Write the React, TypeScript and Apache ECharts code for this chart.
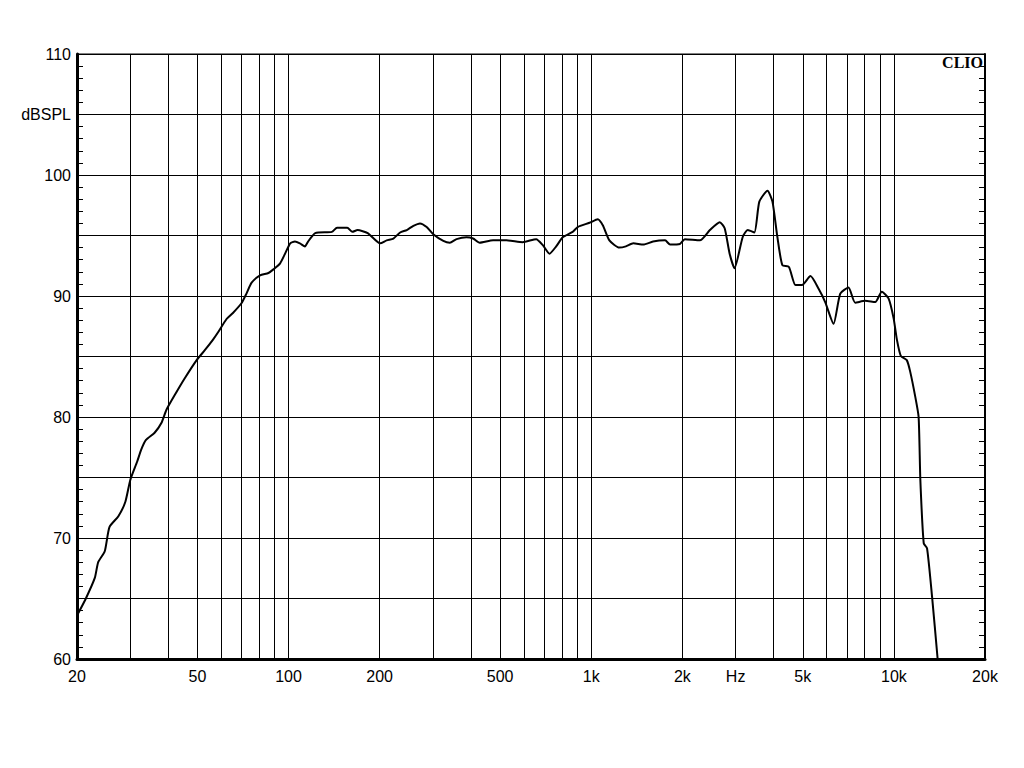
import React, { useEffect, useRef } from "react";
import * as echarts from "echarts";

const freqs = [
  20, 21.3, 22.9, 23.5, 24.7, 25.6, 27.4, 28.9, 30, 31.6, 32.6, 33.8, 36.1, 38, 39.5, 42.5, 45.4, 49.7,
  52.8, 56.3, 58.5, 62.4, 65.5, 69.9, 72.6, 75.5, 80.5, 85.8, 89.1, 93.8, 97.4, 101.3, 105, 109, 113.3,
  116, 122.5, 139, 144.6, 156.3, 162.5, 169, 182.6, 200.7, 211, 222, 233.7, 245.8, 258.5, 271.8, 286,
  300.7, 324.6, 341, 359, 387, 407, 428, 474, 525, 594, 658, 692, 728, 766, 805, 868, 902, 987, 1051,
  1092, 1148, 1238, 1302, 1378, 1486, 1600, 1754, 1822, 1963, 2039, 2286, 2466, 2658, 2760, 2866, 2974,
  3168, 3290, 3459, 3593, 3823, 3970, 4120, 4280, 4500, 4730, 4970, 5300, 5640, 5930, 6320, 6650, 7080,
  7450, 8040, 8680, 9120, 9600, 9980, 10230, 10540, 11030, 11320, 11760, 12070, 12230, 12550, 12870,
  13370, 13950,
];

const splValues = [
  63.6, 64.9, 66.7, 68.0, 68.9, 70.9, 71.8, 73.0, 74.8, 76.3, 77.3, 78.1, 78.7, 79.5, 80.6, 82.0, 83.2, 84.7,
  85.5, 86.4, 87.0, 88.1, 88.6, 89.4, 90.2, 91.1, 91.7, 91.9, 92.2, 92.7, 93.5, 94.35, 94.5, 94.35, 94.1,
  94.5, 95.2, 95.3, 95.65, 95.65, 95.3, 95.45, 95.2, 94.35, 94.6, 94.75, 95.25, 95.45, 95.8, 96.0, 95.7,
  95.1, 94.55, 94.4, 94.7, 94.85, 94.75, 94.4, 94.6, 94.6, 94.45, 94.7, 94.2, 93.5, 94.1, 94.85, 95.3, 95.7, 96.05, 96.35,
  95.85, 94.6, 94.0, 94.1, 94.35, 94.25, 94.5, 94.6, 94.25, 94.3, 94.7, 94.6, 95.45, 96.1, 95.6, 93.5, 92.3,
  94.9, 95.45, 95.25, 97.8, 98.7, 97.8, 94.9, 92.55, 92.4, 90.9, 90.9, 91.65, 90.6, 89.5, 87.7, 90.2, 90.7,
  89.45, 89.6, 89.5, 90.35, 89.8, 88.15, 86.4, 85.05, 84.7, 83.75, 81.7, 80.0, 74.8, 69.55, 69.15,
  65.15, 60.0,
];

const gridFreqs = [
  20, 30, 40, 50, 60, 70, 80, 90, 100, 200, 300, 400, 500, 600, 700, 800, 900, 1000, 2000, 3000, 4000, 5000,
  6000, 7000, 8000, 9000, 10000, 20000,
];
const xLabelFreqs = [20, 50, 100, 200, 500, 1000, 2000, 3000, 5000, 10000, 20000];
const xLabelTexts = ["20", "50", "100", "200", "500", "1k", "2k", "Hz", "5k", "10k", "20k"];

const yMin = 60;
const yMax = 110;
const yStep = 5;
const yUnitValue = 105;
const yUnitText = "dBSPL";

export default function App() {
  const ref = useRef<HTMLDivElement>(null);

  useEffect(() => {
    if (!ref.current) return;
    const chart = echarts.init(ref.current, undefined, { renderer: "svg" });
    const lg = (f: number) => Math.log10(f);
    const labelFont = { fontFamily: "Liberation Sans", fontSize: 16, color: "#000" };

    chart.setOption({
      animation: false,
      backgroundColor: "#fff",
      grid: {
        left: 77,
        top: 54,
        right: 39,
        bottom: 109,
        show: true,
        borderColor: "#000",
        borderWidth: 1,
      },
      graphic: [
        {
          type: "text",
          right: 41,
          top: 54,
          style: {
            text: "CLIO",
            fontFamily: "Liberation Serif",
            fontWeight: "bold",
            fontSize: 16,
            fill: "#000",
          },
        },
      ],
      xAxis: {
        type: "value",
        min: lg(20),
        max: lg(20000),
        axisLine: { show: true, lineStyle: { color: "#000", width: 3 } },
        axisTick: {
          show: true,
          length: 0,
          customValues: gridFreqs.map(lg),
        },
        splitLine: { show: true, lineStyle: { color: "#000", width: 1 } },
        axisLabel: {
          ...labelFont,
          margin: 9,
          customValues: xLabelFreqs.map(lg),
          formatter: (v: number) => {
            const i = xLabelFreqs.findIndex((f) => Math.abs(lg(f) - v) < 1e-6);
            return i >= 0 ? xLabelTexts[i] : "";
          },
        },
      },
      yAxis: [
        {
          type: "value",
          min: yMin,
          max: yMax,
          interval: yStep,
          axisLine: { show: true, lineStyle: { color: "#000", width: 3 } },
          axisTick: { show: false, inside: true },
          minorTick: { show: true, splitNumber: 5, length: 6, lineStyle: { color: "#000", width: 1 } },
          splitLine: { show: true, lineStyle: { color: "#000", width: 1 } },
          axisLabel: {
            ...labelFont,
            margin: 6,
            formatter: (v: number) => {
              if (v === yUnitValue) return yUnitText;
              if (v % 10 !== 0) return "";
              return String(v);
            },
          },
        },
        {
          type: "value",
          position: "right",
          min: yMin,
          max: yMax,
          interval: yStep,
          axisLine: { show: true, lineStyle: { color: "#000", width: 2 } },
          axisTick: { show: false, inside: true },
          minorTick: { show: true, splitNumber: 5, length: 6, lineStyle: { color: "#000", width: 1 } },
          splitLine: { show: false },
          axisLabel: { show: false },
        },
      ],
      series: [
        {
          type: "line",
          yAxisIndex: 0,
          data: freqs.map((f, i) => [lg(f), splValues[i]]),
          showSymbol: false,
          smooth: 0.2,
          clip: true,
          lineStyle: { color: "#000", width: 2 },
        },
      ],
    });

    return () => chart.dispose();
  }, []);

  return (
    <div
      ref={ref}
      style={{ position: "fixed", left: 0, top: 0, width: 1024, height: 768, background: "#fff" }}
    />
  );
}
